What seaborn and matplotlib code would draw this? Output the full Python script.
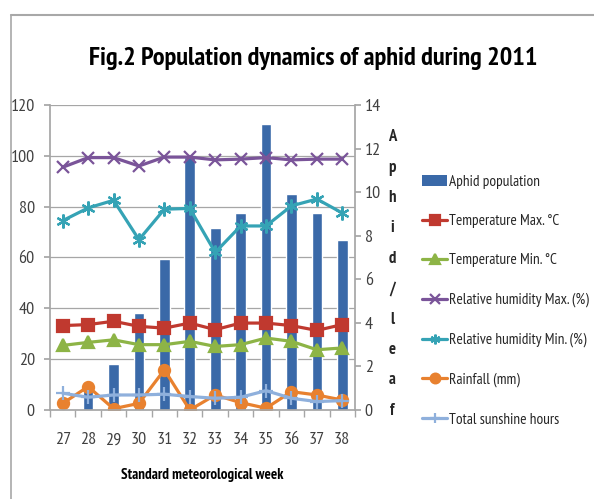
import matplotlib
matplotlib.use("Agg")
import matplotlib.pyplot as plt
import seaborn as sns
import numpy as np
import pandas as pd
from matplotlib.patches import Rectangle
from matplotlib.lines import Line2D

weeks = [27, 28, 29, 30, 31, 32, 33, 34, 35, 36, 37, 38]
aphid = [0.0, 1.3, 2.1, 4.45, 6.95, 11.6, 8.35, 9.05, 13.15, 9.9, 9.05, 7.8]
temp_max = [33.2, 33.6, 34.9, 32.9, 32.2, 34.2, 31.6, 34.2, 34.2, 33.2, 31.3, 33.6]
temp_min = [25.4, 26.6, 27.6, 25.7, 25.7, 27.0, 25.0, 25.7, 28.3, 27.0, 23.7, 24.4]
rh_max = [95.5, 99.3, 99.3, 96.0, 99.5, 99.5, 98.4, 98.7, 99.3, 98.4, 98.7, 98.7]
rh_min = [74.5, 79.5, 82.5, 67.0, 79.0, 79.3, 62.0, 72.4, 72.4, 80.3, 83.0, 77.5]
rainfall = [2.6, 9.2, 0.5, 2.6, 15.8, 0.0, 5.9, 2.9, 0.7, 7.2, 5.9, 3.9]
sunshine = [6.6, 5.0, 5.9, 5.9, 6.2, 5.3, 4.6, 5.0, 7.6, 4.6, 3.3, 3.7]

series = [
    ("Temperature Max. °C", temp_max, "#C0392F", "s", 8),
    ("Temperature Min. °C", temp_min, "#8DB446", "^", 8),
    ("Relative humidity Max. (%)", rh_max, "#7A5499", "x", 9),
    ("Relative humidity Min. (%)", rh_min, "#35A3B5", (6, 2, 0), 10),
    ("Rainfall (mm)", rainfall, "#E8812F", "o", 8),
    ("Total sunshine hours", sunshine, "#8FB0DC", "+", 10),
]
bar_color = "#3A69A8"

sns.set_theme(style="white")
plt.rcParams['font.family'] = ['PT Sans Narrow', 'Archivo Narrow', 'Roboto Condensed',
                               'Carlito', 'DejaVu Sans']

fig = plt.figure(figsize=(5.94, 4.99), dpi=100)
fig.patch.set_facecolor("white")
ax1 = fig.add_axes([0.0842, 0.1784, 0.5134, 0.6112])
ax2 = ax1.twinx()

df_bar = pd.DataFrame({"week": [str(w) for w in weeks], "aphid": aphid})
sns.barplot(data=df_bar, x="week", y="aphid", ax=ax2, color=bar_color,
            width=0.42, saturation=1, legend=False)
if ax2.get_legend() is not None:
    ax2.get_legend().remove()

idx = np.arange(len(weeks))
for label, vals, col, mk, ms in series:
    sns.lineplot(x=idx, y=vals, ax=ax1, color=col, marker=mk, markersize=ms,
                 linewidth=2.3, markeredgecolor=col, markeredgewidth=1.6,
                 label=label, legend=False)

ax1.set_zorder(ax2.get_zorder() + 1)
ax1.patch.set_visible(False)

ax1.set_xlim(-0.5, len(weeks) - 0.5)
ax1.set_ylim(0, 120)
ax2.set_ylim(0, 14)
ax1.set_yticks(np.arange(0, 121, 20))
ax2.set_yticks(np.arange(0, 15, 2))
ax1.set_xticks(idx)
ax1.set_xticklabels([str(w) for w in weeks])

for t in ax1.get_yticks()[1:]:
    ax2.axhline(t / 120 * 14, color="#A6A6A6", lw=0.9, zorder=0)

for ax in (ax1, ax2):
    for s in ax.spines.values():
        s.set_visible(False)
ax1.spines["left"].set_visible(True)
ax1.spines["left"].set_color("#A6A6A6")
ax1.spines["bottom"].set_visible(True)
ax1.spines["bottom"].set_color("#A6A6A6")
ax2.spines["right"].set_visible(True)
ax2.spines["right"].set_color("#A6A6A6")

ax1.tick_params(axis="y", labelsize=13, colors="#A6A6A6", labelcolor="#404040",
                length=4, direction="out", left=True, pad=7)
ax2.tick_params(axis="y", labelsize=13, colors="#A6A6A6", labelcolor="#404040",
                length=4, direction="out", right=True, pad=3)
ax1.tick_params(axis="x", labelsize=13, labelcolor="#404040", bottom=False, pad=10)
ax1.set_xticks(np.arange(-0.5, len(weeks), 1), minor=True)
ax1.tick_params(axis="x", which="minor", bottom=True, length=5, color="#A6A6A6",
                direction="out")
ax1.set_xlabel("Standard meteorological week", fontsize=10.8, fontweight="bold",
               labelpad=14, color="black")
ax1.set_ylabel("")
ax2.set_ylabel("")

fig.text(0.527, 0.882, "Fig.2 Population dynamics of aphid during 2011",
         ha="center", va="center", fontsize=19, fontweight="bold", color="black")
fig.text(0.66, 0.451, "\n".join("Aphid/leaf"), ha="center", va="center",
         fontsize=12, fontweight="bold", linespacing=2.2)

h1, l1 = ax1.get_legend_handles_labels()
h2 = [Rectangle((0, 0), 1, 1, facecolor=bar_color, edgecolor="none")]
l2 = ["Aphid population"]
leg = fig.legend(h2 + h1, l2 + l1, loc="upper left",
                 bbox_to_anchor=(0.700, 0.662), frameon=False, fontsize=11,
                 labelspacing=1.66, handlelength=1.65, handletextpad=0.12,
                 borderaxespad=0)
for h in leg.legend_handles:
    if hasattr(h, "set_markersize"):
        h.set_markersize(7)

fig.add_artist(Line2D([11 / 594, 1.0], [1 - 15 / 499, 1 - 15 / 499],
                      transform=fig.transFigure, color="#A8A8A8", lw=1.5))
fig.add_artist(Line2D([11 / 594, 11 / 594], [0.0, 1 - 15 / 499],
                      transform=fig.transFigure, color="#A8A8A8", lw=1.2))

fig.savefig("out.png", dpi=100)
